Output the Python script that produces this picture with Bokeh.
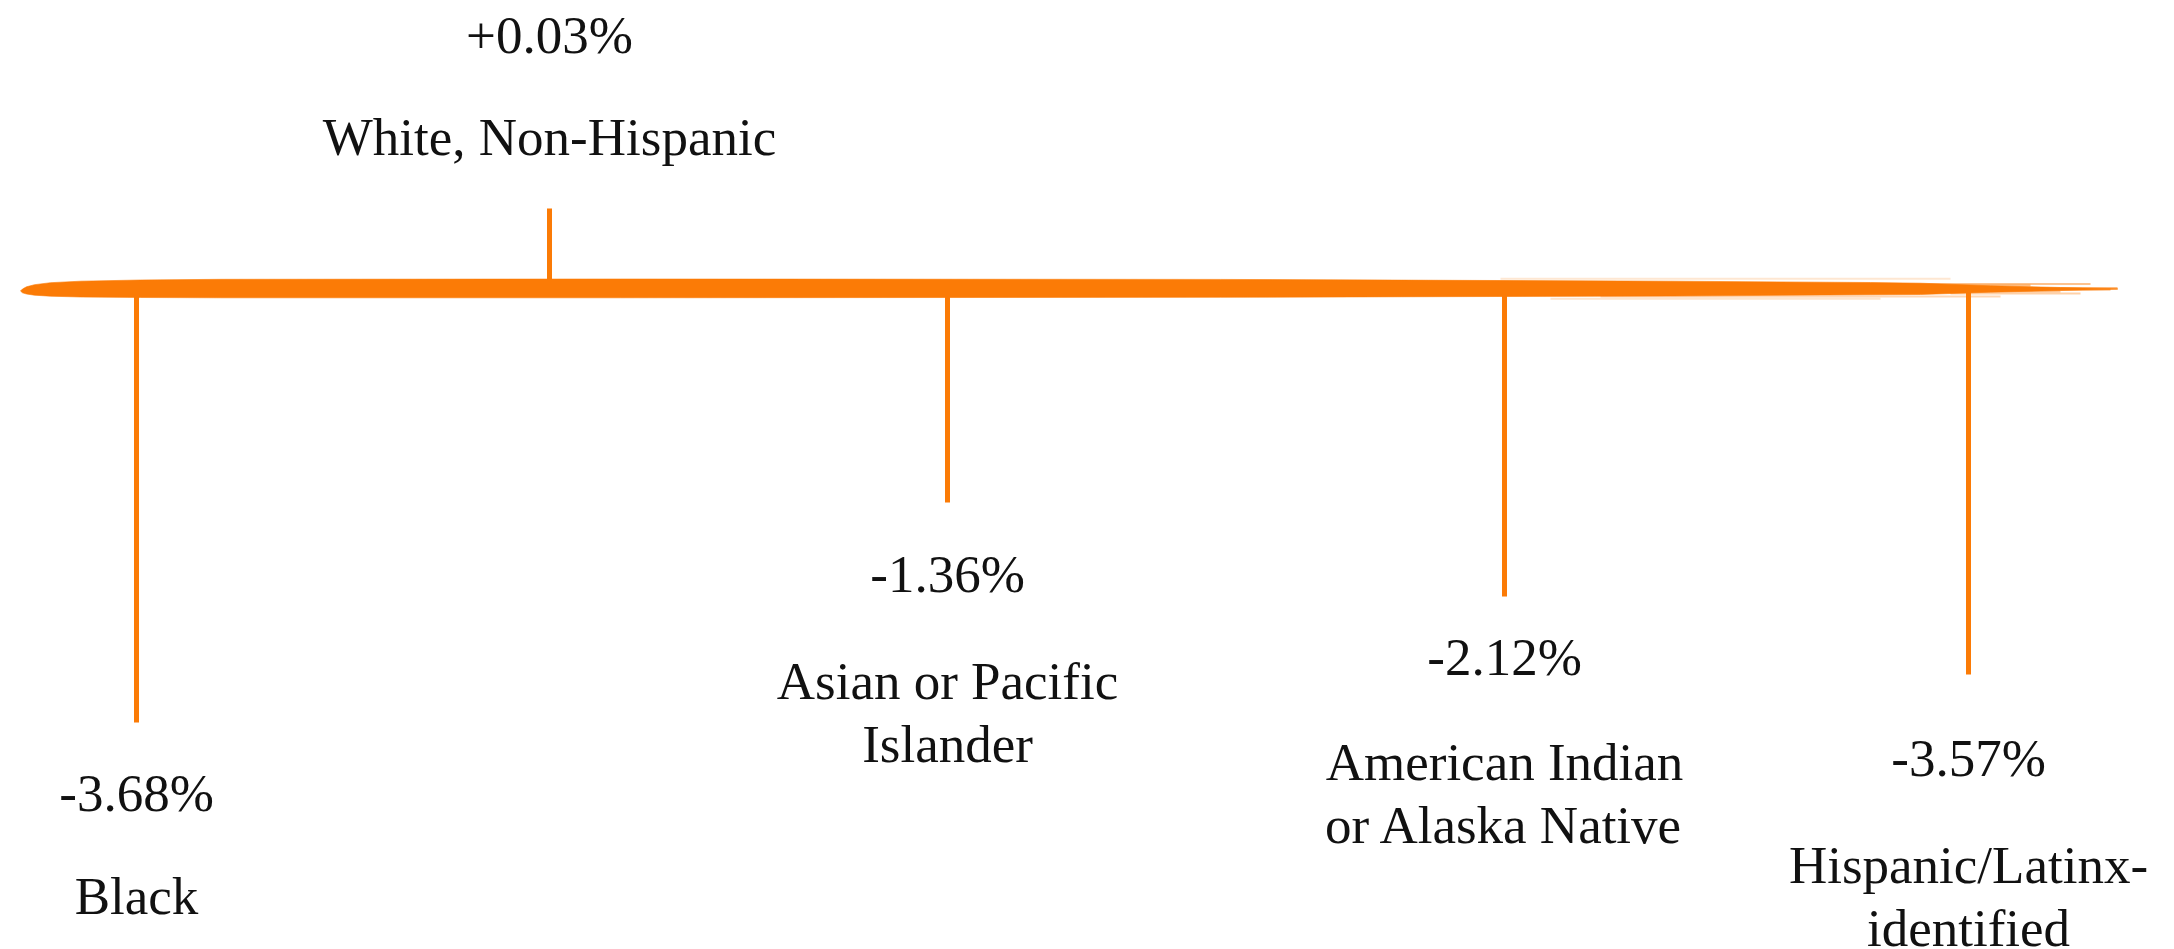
from bokeh.plotting import figure
from bokeh.models import Range1d, ColumnDataSource
from bokeh.core.properties import value
from bokeh.embed import file_html
from bokeh.resources import INLINE

# ---------------- data ----------------
categories = ["Black", "White, Non-Hispanic", "Asian or Pacific\nIslander",
              "American Indian\nor Alaska Native", "Hispanic/Latinx-\nidentified"]
changes = [-3.68, 0.03, -1.36, -2.12, -3.57]

# ---------------- layout (screen-like coordinates) ----------------
x_pos = [136, 549, 947, 1504, 1968]
stem_end = [722, 208, 502, 596, 674]
value_y = [794, 36, 575, 658, 759]
name_y = [897, 138, 682, 763, 866]
line_gap = 63
line_y = 288.5
line_x0 = 20

ORANGE = "#FB7B06"
FONT = value("Liberation Serif")
FSIZE = "53px"
BASE = -2  # empirical: cap-center -> given y for alphabetic baseline

W, H = 2174, 949
p = figure(width=W, height=H, x_range=Range1d(0, W), y_range=Range1d(H, 0),
           x_axis_type=None, y_axis_type=None, toolbar_location=None,
           output_backend="svg", min_border=0, outline_line_color=None)
p.grid.visible = False
p.background_fill_color = "white"
p.border_fill_color = "white"

# ---------------- brush-stroke baseline ----------------
top_prof = [(0, 2.0), (2, 0.0), (6, -2.2), (14, -4.3), (30, -6.3), (60, -7.8),
            (120, -9.0), (200, -9.7), (600, -10.0), (1200, -9.6), (1650, -7.8),
            (1850, -6.5), (1900, -5.8), (1970, -3.2), (2040, -1.5), (2097, -0.3)]
bot_prof = [(0, 2.0), (2, 3.8), (6, 5.0), (14, 6.2), (30, 7.2), (60, 8.0),
            (120, 8.5), (200, 8.8), (600, 8.8), (1200, 8.3), (1650, 7.0),
            (1850, 5.8), (1900, 5.5), (1970, 3.2), (2040, 1.5), (2097, 0.3)]
xs = [line_x0 + dx for dx, _ in top_prof] + [line_x0 + dx for dx, _ in reversed(bot_prof)]
ys = [line_y + dy for _, dy in top_prof] + [line_y + dy for _, dy in reversed(bot_prof)]
p.patch(xs, ys, fill_color=ORANGE, line_color=ORANGE, line_width=1, line_alpha=0.6)

# streaks at the dry end of the brush
streaks = [
    (1500, 1950, -10.3, 0.18, 2), (1700, 2090, -5.0, 0.45, 2), (1800, 2117, -1.0, 0.5, 2),
    (1750, 2060, 2.5, 0.4, 2), (1600, 2000, 7.5, 0.3, 2), (1550, 1880, 9.8, 0.2, 2),
    (1900, 2110, 0.5, 0.6, 2), (1850, 2030, -3.5, 0.5, 2), (1950, 2080, 4.5, 0.35, 2),
]
p.multi_line([[a, b] for a, b, _, _, _ in streaks],
             [[line_y + d, line_y + d] for _, _, d, _, _ in streaks],
             line_color=ORANGE, line_alpha=[s[3] for s in streaks],
             line_width=[s[4] for s in streaks])

# ---------------- stems ----------------
stem_src = ColumnDataSource(dict(x=x_pos, y0=[line_y] * len(x_pos), y1=stem_end))
p.segment(x0="x", y0="y0", x1="x", y1="y1", source=stem_src,
          line_color=ORANGE, line_width=5)

# ---------------- labels ----------------
val_txt = [("+" if v > 0 else "") + f"{v:.2f}%" for v in changes]
p.text(x=x_pos, y=[v + BASE for v in value_y], text=val_txt,
       text_font=FONT, text_font_size=FSIZE, text_color="#111111",
       text_align="center", text_baseline="alphabetic")

nx, ny, nt = [], [], []
for c, x, y in zip(categories, x_pos, name_y):
    for i, ln in enumerate(c.split("\n")):
        nx.append(x)
        ny.append(y + i * line_gap + BASE)
        nt.append(ln)
p.text(x=nx, y=ny, text=nt, text_font=FONT, text_font_size=FSIZE,
       text_color="#111111", text_align="center", text_baseline="alphabetic")

open("out.html", "w").write(file_html(p, INLINE))
